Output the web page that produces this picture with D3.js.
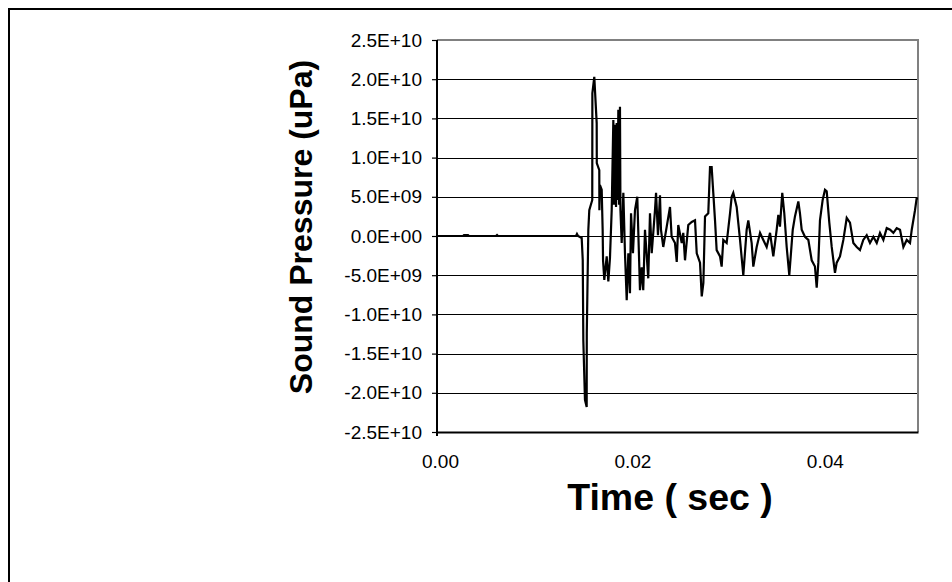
<!DOCTYPE html>
<html>
<head>
<meta charset="utf-8">
<script src="https://cdn.jsdelivr.net/npm/d3@7"></script>
<style>
  body { margin: 0; background: #fff; }
  svg { display: block; font-family: "Liberation Sans", Arial, sans-serif; }
</style>
</head>
<body>
<div class="chart"></div>
<script>
// time (sec) and sound pressure (uPa)
const time = [
  0, 0.00270, 0.00281, 0.00322, 0.00333, 0.00613, 0.00624, 0.00634, 0.01445, 0.01455, 0.01466,
  0.01504, 0.01515, 0.01521, 0.01538, 0.01556, 0.01557, 0.01573, 0.01583, 0.01614, 0.01615,
  0.01635, 0.01660, 0.01661, 0.01687, 0.01688, 0.01694, 0.01712, 0.01722, 0.01726, 0.01739,
  0.01764, 0.01781, 0.01798, 0.01816, 0.01833, 0.01840, 0.01850, 0.01861, 0.01868, 0.01876,
  0.01885, 0.01892, 0.01902, 0.01907, 0.01920, 0.01937, 0.01954, 0.01972, 0.01989, 0.02006,
  0.02017, 0.02037, 0.02058, 0.02082, 0.02110, 0.02128, 0.02144, 0.02162, 0.02196, 0.02214,
  0.02232, 0.02266, 0.02277, 0.02297, 0.02318, 0.02328, 0.02352, 0.02388, 0.02422, 0.02439,
  0.02474, 0.02492, 0.02508, 0.02544, 0.02560, 0.02578, 0.02612, 0.02648, 0.02682, 0.02700,
  0.02734, 0.02752, 0.02769, 0.02786, 0.02820, 0.02838, 0.02855, 0.02872, 0.02890, 0.02907,
  0.02942, 0.02959, 0.02976, 0.03011, 0.03046, 0.03063, 0.03080, 0.03115, 0.03150, 0.03184,
  0.03219, 0.03236, 0.03271, 0.03288, 0.03323, 0.03358, 0.03392, 0.03427, 0.03462, 0.03496,
  0.03531, 0.03548, 0.03565, 0.03589, 0.03610, 0.03635, 0.03662, 0.03698, 0.03721, 0.03756,
  0.03773, 0.03791, 0.03825, 0.03860, 0.03895, 0.03929, 0.03947, 0.03964, 0.03981, 0.04009,
  0.04033, 0.04051, 0.04078, 0.04103, 0.04137, 0.04155, 0.04189, 0.04224, 0.04259, 0.04293,
  0.04328, 0.04363, 0.04397, 0.04431, 0.04467, 0.04501, 0.04536, 0.04571, 0.04605, 0.04640,
  0.04675, 0.04710, 0.04744, 0.04779, 0.04813, 0.04848, 0.04883, 0.04917, 0.04935, 0.04969,
  0.04986, 0.05000
];
const pressure = [
  0, 0, 0.13e9, 0.13e9, 0, 0, 0.13e9, 0, 0, 0.26e9, 0,
  -0.26e9, -3.06e9, -13.3e9, -20.9e9, -21.8e9, -12.4e9, 0.77e9, 3.3e9, 4.6e9, 18.2e9,
  20.3e9, 14.4e9, 9.3e9, 8.4e9, 3.3e9, 6.5e9, 5.9e9, 0.8e9, -3.1e9, -5.6e9,
  -2.6e9, -5.8e9, -2.8e9, 3.3e9, 14.8e9, 4.0e9, 14.2e9, 3.7e9, 14.4e9, 4.6e9,
  16.1e9, 4.0e9, 16.5e9, 3.3e9, -0.9e9, 5.5e9, -2.2e9, -8.2e9, -2.2e9, -7.3e9,
  2.9e9, -2.2e9, 3.3e9, 5.0e9, -6.9e9, -4.0e9, -6.9e9, 0.8e9, -5.4e9, 2.9e9,
  -2.2e9, 3.3e9, 5.5e9, 0.1e9, 5.2e9, 0.8e9, -1.4e9, 1.2e9, 3.7e9, -0.1e9,
  -0.9e9, -3.3e9, 1.4e9, -0.9e9, 0.4e9, -3.1e9, 1.4e9, 1.8e9, 2.0e9, -2.2e9,
  -3.4e9, -7.7e9, -6.0e9, 2.5e9, 2.9e9, 8.8e9, 8.8e9, 5.5e9, 2.0e9, -1.8e9,
  -2.6e9, -3.9e9, -0.5e9, -0.9e9, 2.9e9, 5.0e9, 5.5e9, 3.7e9, -0.5e9, -5.0e9,
  0.8e9, 2.0e9, -0.9e9, -3.9e9, -1.4e9, 0.4e9, -0.5e9, -1.4e9, 0.4e9, -2.6e9,
  0.8e9, 2.7e9, 1.2e9, 5.5e9, 2.9e9, -1.4e9, -5.0e9, 0.8e9, 2.5e9, 4.4e9,
  2.9e9, 0.8e9, -0.1e9, -0.5e9, -3.1e9, -3.9e9, -6.6e9, -3.4e9, 2.0e9, 4.6e9,
  5.9e9, 5.7e9, 1.7e9, -1.4e9, -4.7e9, -3.4e9, -2.6e9, -0.5e9, 2.3e9, 1.7e9,
  -0.9e9, -1.4e9, -1.8e9, -0.5e9, 0.1e9, -0.9e9, -0.1e9, -0.9e9, 0.4e9, -0.5e9,
  1.0e9, 0.8e9, 0.4e9, 1.0e9, 0.8e9, -1.4e9, -0.5e9, -0.9e9, 0.8e9, 3.3e9,
  4.8e9, 4.8e9
];
const xTicks = [0, 0.02, 0.04];
const yTicks = [2.5e10, 2.0e10, 1.5e10, 1.0e10, 5.0e9, 0, -5.0e9, -1.0e10, -1.5e10, -2.0e10, -2.5e10];
const xTitle = 'Time ( sec )';
const yTitle = 'Sound Pressure (uPa)';

const W = 952, H = 582;
const plot = { left: 437, right: 918, top: 40, bottom: 432 };
const font = '"Liberation Sans", Arial, sans-serif';

function sci(v) {
  if (v === 0) return '0.0E+00';
  const [m, e] = v.toExponential(1).toUpperCase().split('E');
  const sign = e[0];
  const digits = e.slice(1).padStart(2, '0');
  return `${m}E${sign}${digits}`;
}

const svg = d3.select('.chart').append('svg')
  .attr('width', W).attr('height', H);

// chart frame (runs off the right and bottom)
svg.append('rect')
  .attr('x', 9).attr('y', 9).attr('width', 1000).attr('height', 700)
  .attr('fill', 'none').attr('stroke', '#000').attr('stroke-width', 2);

const x = d3.scaleLinear().domain([0, 0.05]).range([plot.left, plot.right]);
const y = d3.scaleLinear().domain([-2.5e10, 2.5e10]).range([plot.bottom, plot.top]);

// gridlines
svg.append('g')
  .selectAll('line')
  .data(yTicks).enter().append('line')
  .attr('x1', plot.left).attr('x2', plot.right)
  .attr('y1', d => Math.round(y(d)) + 0.5).attr('y2', d => Math.round(y(d)) + 0.5)
  .attr('stroke', '#000').attr('stroke-width', 1);

// plot border top/right
svg.append('path')
  .attr('d', `M${plot.left},${plot.top} H${plot.right} V${plot.bottom}`)
  .attr('fill', 'none').attr('stroke', '#808080').attr('stroke-width', 2);

// y axis
const yAxis = svg.append('g')
  .attr('transform', `translate(${plot.left},0)`)
  .call(d3.axisLeft(y).tickValues(yTicks).tickFormat(sci).tickSize(5).tickPadding(10));
yAxis.select('.domain').remove();
yAxis.selectAll('.tick line').attr('stroke', '#000').attr('stroke-width', 1.2);
yAxis.selectAll('text').attr('font-size', 19).attr('fill', '#000').attr('font-family', font);
svg.append('line')
  .attr('x1', plot.left).attr('x2', plot.left)
  .attr('y1', plot.top).attr('y2', plot.bottom + 4)
  .attr('stroke', '#000').attr('stroke-width', 2);

// x axis
const xAxis = svg.append('g')
  .attr('transform', `translate(0,${plot.bottom})`)
  .call(d3.axisBottom(x).tickValues(xTicks).tickFormat(d3.format('.2f')).tickSize(0).tickPadding(23));
xAxis.select('.domain').attr('stroke', '#000').attr('stroke-width', 2);
xAxis.selectAll('text').attr('font-size', 19).attr('fill', '#000').attr('font-family', font)
  .attr('dx', 3);

// waveform
const line = d3.line()
  .x(d => x(d[0]))
  .y(d => y(d[1]));

svg.append('path')
  .datum(d3.zip(time, pressure))
  .attr('d', line)
  .attr('fill', 'none')
  .attr('stroke', '#000')
  .attr('stroke-width', 2.2)
  .attr('stroke-linejoin', 'miter');

// titles
svg.append('text')
  .attr('x', 670).attr('y', 510)
  .attr('text-anchor', 'middle')
  .attr('font-size', 37.5).attr('font-weight', 'bold')
  .text(xTitle);

svg.append('text')
  .attr('transform', `translate(312,${(plot.top + plot.bottom) / 2 - 9}) rotate(-90)`)
  .attr('text-anchor', 'middle')
  .attr('font-size', 32).attr('font-weight', 'bold')
  .text(yTitle);
</script>
</body>
</html>
